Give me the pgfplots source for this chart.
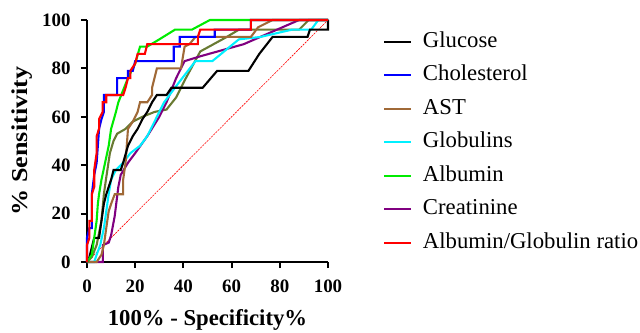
\documentclass[border=0pt]{standalone}
\usepackage{pgfplots}
\pgfplotsset{compat=1.18}
\usepackage{graphicx}
\usepackage{fontspec}
\setmainfont{Liberation Serif}
\definecolor{cBrown}{RGB}{160,105,55}
\definecolor{cOlive}{RGB}{105,122,50}
\definecolor{cPurple}{RGB}{128,0,128}
\definecolor{cCyan}{RGB}{0,240,255}
\definecolor{cGreen}{RGB}{0,235,0}
\begin{document}
\begin{tikzpicture}
\begin{axis}[
  scale only axis, width=241bp, height=242bp,
  xmin=0, xmax=100, ymin=0, ymax=100,
  axis lines=left,
  axis line style={line width=2.2pt, -},
  xtick={0,20,40,60,80,100}, ytick={0,20,40,60,80,100},
  tick style={line width=2.2pt, black},
  tick align=outside, major tick length=6bp,
  /pgf/number format/assume math mode=true,
  tick label style={font=\fontsize{19}{19}\selectfont\bfseries},
  xticklabel style={yshift=-8bp},
  yticklabel style={xshift=-7bp},
  xlabel={100\% - Specificity\%},
  ylabel={\scalebox{1.15}[1]{\% Sensitivity}},
  label style={font=\fontsize{22.8}{23}\selectfont\bfseries},
  xlabel style={at={(axis description cs:0.5,-0.24)}, anchor=center},
  ylabel style={at={(axis description cs:-0.27,0.5)}, anchor=center},
  clip=false,
  legend style={draw=none, fill=none, at={(1,1)}, anchor=north west, xshift=55bp, yshift=-11bp,
    font=\fontsize{22.8}{23}\selectfont, row sep=12.5bp, inner sep=0pt,
    nodes={inner sep=0pt, text height=16bp, text depth=5bp},
    /tikz/every even column/.append style={column sep=0bp}},
  legend cell align=left,
  legend image code/.code={\draw[#1, line width=1.8pt] (0bp,0bp) -- (27bp,0bp);},
  every axis plot/.append style={line width=2.1pt, line join=miter},
]
\addlegendimage{black}\addlegendentry{\hspace{11bp}Glucose}
\addlegendimage{blue}\addlegendentry{\hspace{11bp}Cholesterol}
\addlegendimage{cBrown}\addlegendentry{\hspace{11bp}AST}
\addlegendimage{cCyan}\addlegendentry{\hspace{11bp}Globulins}
\addlegendimage{cGreen}\addlegendentry{\hspace{11bp}Albumin}
\addlegendimage{cPurple}\addlegendentry{\hspace{11bp}Creatinine}
\addlegendimage{red}\addlegendentry{\hspace{11bp}Albumin/Globulin ratio}

\addplot[red, densely dotted, line width=0.6pt, forget plot] coordinates {(0,0) (100,100)};

% Olive (unlabelled)
\addplot[cOlive, forget plot] coordinates {(0,0) (2,2) (4,7) (6,17) (7,28) (8,35) (9.5,45) (11,50) (12.5,53) (16,55) (19,58) (23,60) (28,62) (33,63) (37,68) (40.5,75) (47,87) (58,93) (63,96) (88,96) (92,100) (100,100)};
% Creatinine
\addplot[cPurple, forget plot] coordinates {(0,0) (6.6,0) (6.6,7) (9,8) (10,11) (11.5,19) (13,31) (14,36) (17,41) (20,45) (25,52) (30,60) (33,66) (37,76) (40.5,83) (47,85) (65,90) (88,100) (100,100)};
% Globulins
\addplot[cCyan, forget plot] coordinates {(0,0) (3,0) (4,3) (5.5,7) (7,14) (8,21) (9,28) (10,34) (12,38) (15,41) (18,45) (22,48) (25,52) (28,58) (32,66) (38,74) (45,83) (52,83) (63,92) (72,93) (85,96) (93,96) (96,100) (100,100)};
% AST
\addplot[cBrown, forget plot] coordinates {(0,0) (4,0) (6,3) (7,7) (8,14) (9,21) (10,24) (11.5,28) (15,28) (15,34) (16,41) (17,55) (19,58) (21,62) (22,66) (25,66) (27,69) (27,72) (28,76) (29,80) (39,80) (40.5,89) (42.5,90) (45,93) (68,93) (71,97) (77,100) (100,100)};
% Glucose
\addplot[black, forget plot] coordinates {(0,0) (1,2) (2,6) (3,10) (5,10) (6,17) (7,24) (8,28) (9,31) (10,34) (11,38) (14,38) (15,41) (17,48) (19,52) (21,55) (23,59) (25,62) (27,66) (29,69) (33,69) (35,72) (48,72) (54,79) (67,79) (71.5,86) (77,93) (91.5,93) (92.5,96) (100,96) (100,100)};
% Albumin
\addplot[cGreen, forget plot] coordinates {(0,0) (2,3) (3,10) (4,17) (4.5,24) (5,28) (6,34) (7.5,41) (9,48) (10,55) (12,62) (13,66) (15,71) (17,76) (20,82) (22,89) (25,89) (30,92) (36.5,96) (43.5,96) (51,100) (100,100)};
% Cholesterol
\addplot[blue, forget plot] coordinates {(0,0) (0,10) (1,14) (2,14) (2,28) (3,36) (4,41) (4.5,48) (5,55) (6,59) (7,62) (7,69) (12.5,69) (12.5,76) (17,76) (17,79) (19,79) (20,83) (36,83) (36,89) (38.5,89) (38.5,93) (53,93) (53,96) (68,96) (68,100) (100,100)};
% Albumin/Globulin ratio
\addplot[red, forget plot] coordinates {(0,0) (0,7) (1,10) (1,17) (2,17) (2,28) (3,31) (3,38) (4,45) (4,52) (5,55) (5,59) (6.5,62) (6.5,66) (8,66) (8,69) (15,69) (16,72) (17,76) (18,76) (18,79) (20,82) (21,86) (24,86) (25,90) (46,90) (46,93) (47,96) (68,96) (68,100) (100,100)};
\end{axis}
\pgfresetboundingbox
\path[use as bounding box] (current axis.south west) ++(-87bp,-71bp) rectangle ++(640bp,333bp);
\end{tikzpicture}
\end{document}
